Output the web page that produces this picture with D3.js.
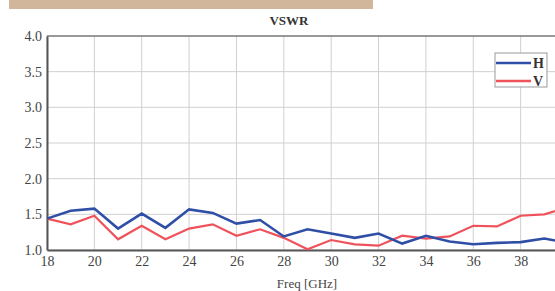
<!DOCTYPE html>
<html>
<head>
<meta charset="utf-8">
<script src="https://cdn.jsdelivr.net/npm/d3@7"></script>
<style>
  body { margin: 0; background: #fff; overflow: hidden; }
  text { font-family: "Liberation Serif", "DejaVu Serif", serif; }
</style>
</head>
<body>
<div id="chart"></div>
<script>
// values
let freqs = d3.range(18, 41);
let hValues = [1.44, 1.55, 1.58, 1.30, 1.51, 1.31, 1.57, 1.52, 1.37, 1.42, 1.19,
               1.29, 1.23, 1.17, 1.23, 1.09, 1.20, 1.12, 1.08, 1.10, 1.11, 1.16, 1.10];
let vValues = [1.44, 1.36, 1.48, 1.15, 1.34, 1.15, 1.30, 1.36, 1.20, 1.29, 1.17,
               1.01, 1.14, 1.08, 1.06, 1.20, 1.16, 1.19, 1.34, 1.33, 1.48, 1.50, 1.60];
let xTicks = [18, 20, 22, 24, 26, 28, 30, 32, 34, 36, 38];
let yTicks = [1.0, 1.5, 2.0, 2.5, 3.0, 3.5, 4.0];
let seriesNames = ['H', 'V'];

let chart_width = 555;
let chart_height = 291;

let svg = d3.select('#chart')
            .append('svg')
            .attr('width', chart_width)
            .attr('height', chart_height);

// banner from the page above
svg.append('rect')
   .attr('x', 9).attr('y', -2)
   .attr('width', 364).attr('height', 11)
   .attr('fill', '#d2b69c');

let x_scale = d3.scaleLinear()
            .domain([18, 40])
            .range([47, 568]);

let y_scale = d3.scaleLinear()
            .domain([1, 4])
            .range([250, 36]);

// grid
svg.append('g')
   .selectAll('line')
   .data(xTicks)
   .enter()
   .append('line')
   .attr('x1', d => x_scale(d)).attr('x2', d => x_scale(d))
   .attr('y1', y_scale(4)).attr('y2', y_scale(1))
   .attr('stroke', '#d0d0d0').attr('stroke-width', 1);

svg.append('g')
   .selectAll('line')
   .data(yTicks)
   .enter()
   .append('line')
   .attr('x1', x_scale(18)).attr('x2', x_scale(40))
   .attr('y1', d => y_scale(d)).attr('y2', d => y_scale(d))
   .attr('stroke', d => d === 4 ? '#777' : '#d0d0d0')
   .attr('stroke-width', d => d === 4 ? 1.5 : 1);

// axes
let x_axis = d3.axisBottom(x_scale)
            .tickValues(xTicks)
            .tickSize(0)
            .tickPadding(6)
            .tickFormat(d3.format('d'));

let gx = svg.append('g')
   .attr('class', 'x-axis')
   .attr('transform', 'translate(0,' + y_scale(1) + ')')
   .call(x_axis);

let y_axis = d3.axisLeft(y_scale)
            .tickValues(yTicks)
            .tickSize(0)
            .tickPadding(5)
            .tickFormat(d3.format('.1f'));

let gy = svg.append('g')
   .attr('class', 'y-axis')
   .attr('transform', 'translate(' + x_scale(18) + ',0)')
   .call(y_axis);

[gx, gy].forEach(g => {
  g.select('.domain').attr('stroke', '#555').attr('stroke-width', 2);
  g.selectAll('text')
   .attr('fill', '#444')
   .style('font-size', '14px')
   .style('font-family', '"Liberation Serif", serif');
});

// lines
let line = d3.line()
             .x((d, i) => x_scale(freqs[i]))
             .y(d => y_scale(d));

svg.append('path')
   .datum(vValues)
   .attr('d', line)
   .attr('fill', 'none')
   .attr('stroke', '#f0525c')
   .attr('stroke-width', 2.2);

svg.append('path')
   .datum(hValues)
   .attr('d', line)
   .attr('fill', 'none')
   .attr('stroke', '#2f4fa6')
   .attr('stroke-width', 2.6);

// title + label
svg.append('text')
   .attr('x', 289).attr('y', 25)
   .attr('text-anchor', 'middle')
   .attr('fill', '#333')
   .style('font-size', '13px')
   .style('font-weight', 'bold')
   .text('VSWR');

svg.append('text')
   .attr('x', 307).attr('y', 288)
   .attr('text-anchor', 'middle')
   .attr('fill', '#444')
   .style('font-size', '13px')
   .text('Freq [GHz]');

// legend
let legend = svg.append('g').attr('transform', 'translate(495,53)');
legend.append('rect')
   .attr('width', 52).attr('height', 34)
   .attr('fill', '#fff')
   .attr('stroke', '#999');

let colors = ['#2f4fa6', '#f0525c'];
seriesNames.forEach((name, i) => {
  legend.append('line')
     .attr('x1', 1).attr('x2', 36)
     .attr('y1', 10 + i * 18).attr('y2', 10 + i * 18)
     .attr('stroke', colors[i])
     .attr('stroke-width', 2.5);
  legend.append('text')
     .attr('x', 38).attr('y', 15 + i * 18)
     .attr('fill', '#333')
     .style('font-size', '14px')
     .style('font-weight', 'bold')
     .text(name);
});
</script>
</body>
</html>
